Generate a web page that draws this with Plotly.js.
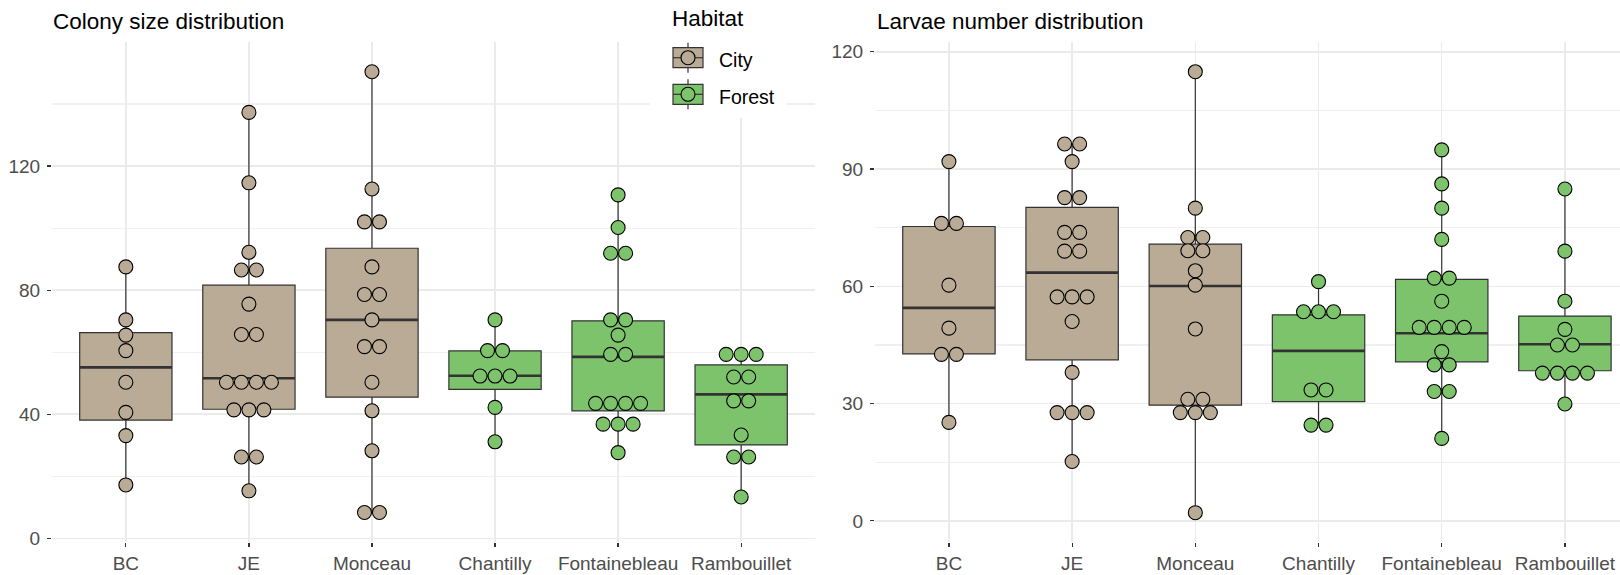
<!DOCTYPE html>
<html>
<head>
<meta charset="utf-8">
<script src="https://cdn.plot.ly/plotly-3.0.1.min.js"></script>
<style>html,body{margin:0;padding:0;background:#fff;}#chart{width:1620px;height:575px;}</style>
</head>
<body>
<div id="chart"></div>
<script>
// ---------- DATA ----------
const categories = ['BC', 'JE', 'Monceau', 'Chantilly', 'Fontainebleau', 'Rambouillet'];
const habitatOfSite = ['City', 'City', 'City', 'Forest', 'Forest', 'Forest'];
const habitats = ['City', 'Forest'];

// Colony size (dot positions per site)
const colonyBC = [87.5, 70.4, 65.5, 60.5, 50.3, 40.6, 33.1, 17.2];
const colonyJE = [137.3, 114.6, 92.2, 86.5, 86.5, 75.5, 65.7, 65.7, 50.3, 50.3, 50.3, 50.3, 41.4, 41.4, 41.4, 26.2, 26.2, 15.3];
const colonyMonceau = [150.4, 112.6, 102.0, 102.0, 87.5, 78.6, 78.6, 70.4, 61.8, 61.8, 50.3, 41.1, 28.2, 8.3, 8.3];
const colonyChantilly = [70.4, 60.5, 60.5, 52.3, 52.3, 52.3, 42.2, 31.1];
const colonyFontainebleau = [110.7, 100.2, 91.9, 91.9, 70.4, 70.4, 65.5, 59.3, 59.3, 43.5, 43.5, 43.5, 43.5, 36.8, 36.8, 36.8, 27.6];
const colonyRambouillet = [59.3, 59.3, 59.3, 52.0, 52.0, 44.3, 44.3, 33.3, 26.2, 26.2, 13.3];
// Colony size box statistics
const colonyQ1 = [38.1, 41.6, 45.5, 48.0, 41.1, 30.1];
const colonyMedian = [55.1, 51.6, 70.4, 52.4, 58.5, 46.4];
const colonyQ3 = [66.3, 81.6, 93.5, 60.4, 70.1, 55.9];

// Larvae number (dot positions per site)
const larvaeBC = [91.9, 76.1, 76.1, 60.3, 49.3, 42.6, 42.6, 25.2];
const larvaeJE = [96.4, 96.4, 91.9, 82.7, 82.7, 73.8, 73.8, 69.0, 69.0, 57.3, 57.3, 57.3, 51.0, 38.0, 27.7, 27.7, 27.7, 15.2];
const larvaeMonceau = [114.9, 80.0, 72.5, 72.5, 69.1, 69.1, 64.0, 60.3, 49.1, 31.1, 31.1, 27.7, 27.7, 27.7, 2.1];
const larvaeChantilly = [61.2, 53.5, 53.5, 53.5, 33.5, 33.5, 24.5, 24.5];
const larvaeFontainebleau = [94.9, 86.2, 80.0, 72.0, 62.1, 62.1, 56.2, 49.5, 49.5, 49.5, 49.5, 43.3, 39.9, 39.9, 33.1, 33.1, 21.1];
const larvaeRambouillet = [84.9, 69.0, 56.2, 49.0, 45.0, 45.0, 37.8, 37.8, 37.8, 37.8, 29.9];
// Larvae number box statistics
const larvaeQ1 = [42.7, 41.2, 29.6, 30.5, 40.7, 38.4];
const larvaeMedian = [54.5, 63.5, 60.1, 43.5, 48.0, 45.2];
const larvaeQ3 = [75.3, 80.2, 70.8, 52.7, 61.8, 52.4];

const colonyTicks = [0, 40, 80, 120];
const colonyMinor = [20, 60, 100, 140];
const larvaeTicks = [0, 30, 60, 90, 120];
const larvaeMinor = [15, 45, 75, 105];

// ---------- STYLE ----------
const W = 1620, H = 575;
const fills = {City: '#B9AB95', Forest: '#7DC36B'};
const edge = '#333333';
const font = 'Liberation Sans, Arial, sans-serif';
const boxWidth = 0.75;
const dotStep = 15 / 123.1;   // dot diameter in category units
const px = v => v / W;
const py = v => 1 - v / H;

const colonySites = [colonyBC, colonyJE, colonyMonceau, colonyChantilly, colonyFontainebleau, colonyRambouillet];
const larvaeSites = [larvaeBC, larvaeJE, larvaeMonceau, larvaeChantilly, larvaeFontainebleau, larvaeRambouillet];

function panelTraces(sites, q1, med, q3, xa, ya) {
  const traces = [];
  habitats.forEach(h => {
    const idx = categories.map((c, i) => i).filter(i => habitatOfSite[i] === h);
    traces.push({
      type: 'box', xaxis: xa, yaxis: ya,
      x: idx.map(i => i + 1),
      q1: idx.map(i => q1[i]), median: idx.map(i => med[i]), q3: idx.map(i => q3[i]),
      lowerfence: idx.map(i => Math.min(...sites[i])),
      upperfence: idx.map(i => Math.max(...sites[i])),
      width: boxWidth, whiskerwidth: 0, boxpoints: false,
      fillcolor: fills[h], line: {color: edge, width: 1.2},
      showlegend: false, hoverinfo: 'skip'
    });
  });
  // thicker median lines
  const mx = [], my = [];
  categories.forEach((c, i) => {
    mx.push(i + 1 - boxWidth / 2, i + 1 + boxWidth / 2, null);
    my.push(med[i], med[i], null);
  });
  traces.push({type: 'scatter', mode: 'lines', xaxis: xa, yaxis: ya, x: mx, y: my,
    line: {color: edge, width: 2.6}, showlegend: false, hoverinfo: 'skip'});
  // centred dot stacks
  habitats.forEach(h => {
    const dx = [], dy = [];
    categories.forEach((c, i) => {
      if (habitatOfSite[i] !== h) return;
      const counts = {};
      sites[i].forEach(v => { counts[v] = (counts[v] || 0) + 1; });
      const seen = {};
      sites[i].forEach(v => {
        const k = counts[v], j = seen[v] || 0;
        seen[v] = j + 1;
        dx.push(i + 1 + (j - (k - 1) / 2) * dotStep);
        dy.push(v);
      });
    });
    traces.push({type: 'scatter', mode: 'markers', xaxis: xa, yaxis: ya, x: dx, y: dy,
      marker: {size: 14, color: fills[h], line: {color: '#000', width: 1.1}},
      showlegend: false, hoverinfo: 'skip'});
  });
  return traces;
}

const data = [
  ...panelTraces(colonySites, colonyQ1, colonyMedian, colonyQ3, 'x', 'y'),
  ...panelTraces(larvaeSites, larvaeQ1, larvaeMedian, larvaeQ3, 'x2', 'y2')
];

const tickFont = {family: font, size: 19, color: '#4D4D4D'};
function xAxis(domain, range) {
  return {domain, range, tickvals: categories.map((c, i) => i + 1), ticktext: categories,
    showgrid: true, gridcolor: '#EBEBEB', gridwidth: 1.5, zeroline: false, showline: false,
    ticks: 'outside', ticklen: 4, tickwidth: 1.2, tickcolor: edge, tickfont: tickFont,
    fixedrange: true};
}
function yAxis(domain, range, ticks, minor, anchor) {
  return {domain, range, anchor, tickvals: ticks, showgrid: true, gridcolor: '#EBEBEB', gridwidth: 1.5,
    minor: {tickvals: minor, showgrid: true, gridcolor: '#F0F0F0', gridwidth: 1.1, ticks: ''},
    zeroline: false, showline: false, ticks: 'outside', ticklen: 4, tickwidth: 1.2, tickcolor: edge,
    tickfont: tickFont, ticklabelstandoff: 3, fixedrange: true};
}

const yDom = [py(542), py(42)];
const shapes = [
  {type: 'rect', xref: 'paper', yref: 'paper', x0: px(650), x1: px(787), y0: py(118), y1: py(0),
   fillcolor: '#FFFFFF', line: {width: 0}, layer: 'above'}
];
const keyCenters = {City: 57.7, Forest: 94.3};
habitats.forEach(h => {
  const cy = keyCenters[h];
  shapes.push(
    {type: 'line', xref: 'paper', yref: 'paper', x0: px(688), x1: px(688), y0: py(cy - 15), y1: py(cy + 15),
     line: {color: edge, width: 1.2}, layer: 'above'},
    {type: 'rect', xref: 'paper', yref: 'paper', x0: px(673), x1: px(703), y0: py(cy + 10), y1: py(cy - 10),
     fillcolor: fills[h], line: {color: edge, width: 1.2}, layer: 'above'},
    {type: 'line', xref: 'paper', yref: 'paper', x0: px(673), x1: px(703), y0: py(cy), y1: py(cy),
     line: {color: edge, width: 1.2}, layer: 'above'},
    {type: 'circle', xref: 'paper', yref: 'paper', x0: px(681), x1: px(695), y0: py(cy + 7), y1: py(cy - 7),
     fillcolor: fills[h], line: {color: '#000', width: 1.1}, layer: 'above'}
  );
});

const ann = (text, x, y, size) => ({text, xref: 'paper', yref: 'paper', x: px(x), y: py(y),
  xanchor: 'left', yanchor: 'middle', showarrow: false, borderpad: 0,
  font: {family: font, size, color: '#000'}});

const layout = {
  width: W, height: H,
  margin: {l: 0, r: 0, t: 0, b: 0, pad: 0},
  paper_bgcolor: '#FFFFFF', plot_bgcolor: '#FFFFFF',
  showlegend: false, boxmode: 'overlay',
  xaxis: xAxis([px(52), px(815)], [0.4, 6.6]),
  yaxis: yAxis(yDom, [-1.2, 160], colonyTicks, colonyMinor, 'x'),
  xaxis2: xAxis([px(875), 1], [0.4, 6.447]),
  yaxis2: yAxis(yDom, [-5.4, 122.5], larvaeTicks, larvaeMinor, 'x2'),
  shapes,
  annotations: [
    ann('Colony size distribution', 52, 21.7, 22.5),
    ann('Larvae number distribution', 876, 21.7, 22.5),
    ann('Habitat', 671, 18.3, 22.5),
    ann('City', 718, 60, 19.5),
    ann('Forest', 718, 96.7, 19.5)
  ]
};
layout.xaxis2.anchor = 'y2';
layout.xaxis.anchor = 'y';

Plotly.newPlot('chart', data, layout, {displayModeBar: false, staticPlot: true});
</script>
</body>
</html>
